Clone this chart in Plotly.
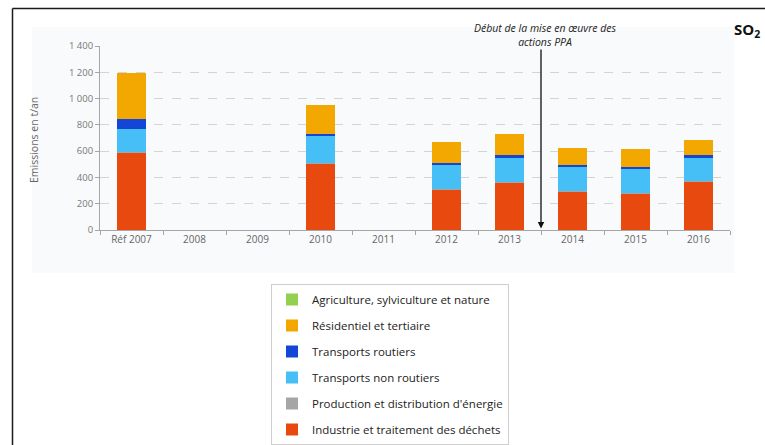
import plotly.graph_objects as go

categories = ["Réf 2007", "2008", "2009", "2010", "2011", "2012", "2013", "2014", "2015", "2016"]

industrie = [590, None, None, 505, None, 305, 365, 292, 278, 368]
production = [4, None, None, 4, None, 4, 4, 4, 4, 4]
non_routiers = [176, None, None, 208, None, 183, 183, 183, 184, 180]
routiers = [75, None, None, 15, None, 18, 15, 17, 13, 15]
residentiel = [350, None, None, 218, None, 163, 163, 128, 137, 120]
agriculture = [0, None, None, 0, None, 0, 0, 0, 0, 0]

series = [
    ("Industrie et traitement des déchets", industrie, "#e8490f", 6),
    ("Production et distribution d'énergie", production, "#a6a6a6", 5),
    ("Transports non routiers", non_routiers, "#45bff5", 4),
    ("Transports routiers", routiers, "#1346d6", 3),
    ("Résidentiel et tertiaire", residentiel, "#f2a800", 2),
    ("Agriculture, sylviculture et nature", agriculture, "#92d050", 1),
]

FONT = "Open Sans"
fig = go.Figure()
for name, vals, col, rank in series:
    fig.add_trace(go.Bar(
        x=categories, y=vals, name=name, marker=dict(color=col, line=dict(width=0)),
        width=0.45, legendgroup=name, legendrank=rank,
    ))

# plot area pixel geometry
L, R, T, B = 100, 730, 46, 230
W, H = 765, 445
pw, ph = R - L, B - T
def px(x):
    return (x - L) / pw
def py(y):
    return (B - y) / ph

fig.update_layout(
    width=W, height=H,
    margin=dict(l=L, r=W - R, t=T, b=H - B),
    barmode="stack",
    paper_bgcolor="white",
    plot_bgcolor="rgba(0,0,0,0)",
    separators=", ",
    font=dict(family=FONT, size=10, color="#666666"),
    showlegend=True,
    legend=dict(
        xref="paper", yref="container",
        x=px(271), y=1 - 284 / H, xanchor="left", yanchor="top",
        traceorder="grouped", tracegroupgap=7, itemwidth=30,
        font=dict(family=FONT, size=11.5, color="#222222"),
        bordercolor="#cfcfcf", borderwidth=1, bgcolor="white",
        itemclick=False,
    ),
    xaxis=dict(
        type="category", showline=True, linecolor="#a6a6a6", linewidth=1,
        ticks="outside", tickson="boundaries", ticklen=4, tickcolor="#a6a6a6",
        tickfont=dict(family=FONT, size=10, color="#666666"),
        showgrid=False, fixedrange=True,
    ),
    yaxis=dict(
        range=[0, 1400], dtick=200, tick0=0, separatethousands=True,
        showline=True, linecolor="#a6a6a6", linewidth=1,
        ticks="outside", ticklen=4, tickcolor="#a6a6a6",
        tickfont=dict(family=FONT, size=9.5, color="#777777"),
        showgrid=True, gridcolor="#d4d4d4", griddash="dash", gridwidth=1,
        zeroline=False, fixedrange=True,
    ),
    shapes=[
        dict(type="rect", xref="paper", yref="paper",
             x0=px(32), x1=px(734), y0=py(273), y1=py(27),
             fillcolor="#f9fafb", line=dict(width=0), layer="below"),
        dict(type="line", xref="paper", yref="paper",
             x0=px(12.5), x1=px(765), y0=py(8.5), y1=py(8.5),
             line=dict(color="#1a1a1a", width=1.5)),
        dict(type="line", xref="paper", yref="paper",
             x0=px(12.5), x1=px(12.5), y0=py(8.5), y1=py(445),
             line=dict(color="#1a1a1a", width=1.5)),
    ],
    annotations=[
        dict(xref="x", yref="y", axref="x", ayref="y",
             x=6.5, y=12, ax=6.5, ay=(B - 48) / ph * 1400,
             showarrow=True, arrowhead=2, arrowsize=1, arrowwidth=1.3,
             arrowcolor="#111111", text=""),
        dict(xref="paper", yref="paper", x=px(545), y=py(35),
             text="<i>Début de la mise en œuvre des<br>actions PPA</i>",
             showarrow=False, xanchor="center", yanchor="middle",
             font=dict(family=FONT, size=10.5, color="#222222")),
        dict(xref="paper", yref="paper", x=px(747), y=py(30),
             text="<b>SO<sub>2</sub></b>", showarrow=False,
             xanchor="center", yanchor="middle",
             font=dict(family=FONT, size=15, color="#111111")),
        dict(xref="paper", yref="paper", x=px(34), y=py(140),
             text="Emissions en t/an", textangle=-90, showarrow=False,
             xanchor="center", yanchor="middle",
             font=dict(family=FONT, size=10.5, color="#666666")),
    ],
)

fig.write_html("out.html")
